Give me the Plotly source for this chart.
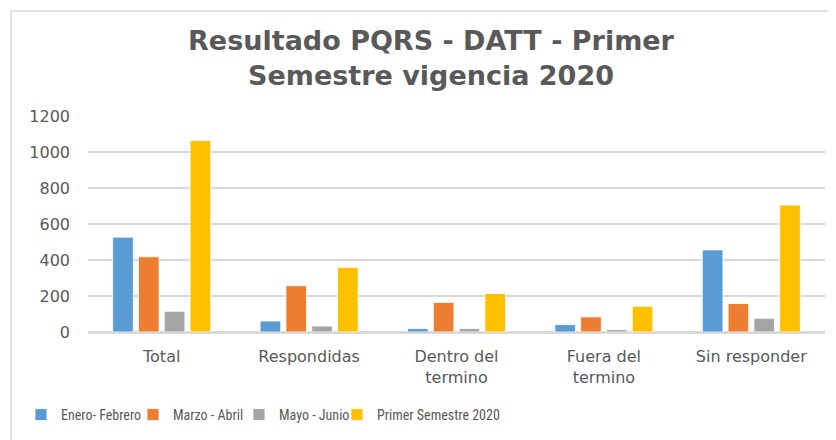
import plotly.graph_objects as go

categories = ["Total", "Respondidas", "Dentro del<br>termino", "Fuera del<br>termino", "Sin responder"]
series_names = ["Enero- Febrero", "Marzo - Abril", "Mayo - Junio", "Primer Semestre 2020"]
enero_febrero = [527, 61, 19, 41, 456]
marzo_abril = [418, 257, 164, 84, 158]
mayo_junio = [115, 33, 19, 13, 76]
primer_semestre = [1064, 359, 214, 143, 705]
y_ticks = [0, 200, 400, 600, 800, 1000, 1200]

colors = ["#5B9BD5", "#ED7D31", "#A5A5A5", "#FFC000"]
values = [enero_febrero, marzo_abril, mayo_junio, primer_semestre]
legend_ids = ["legend", "legend2", "legend3", "legend4"]
legend_text_x = [61, 173, 279, 377]  # page px where each legend label starts

fig = go.Figure()
for name, vals, col, lg in zip(series_names, values, colors, legend_ids):
    fig.add_trace(go.Bar(x=categories, y=vals, name=name, legend=lg,
                         marker=dict(color=col, line=dict(color="white", width=0.8))))

# page body has an 8px margin; work in page pixels and convert
OFF = 8
W, H = 836, 440
plot_left, plot_right, plot_top, plot_bottom = 88, 825, 116, 332
ml = plot_left - OFF
mr = W - (plot_right - OFF)
mt = plot_top - OFF
mb = H - (plot_bottom - OFF)
pw = W - ml - mr
ph = H - mt - mb

def px_x(x):
    return (x - OFF - ml) / pw

def px_y(y):
    return (H - mb - (y - OFF)) / ph

fig.add_shape(type="rect", xref="paper", yref="paper",
              x0=px_x(11), x1=px_x(850), y0=px_y(460), y1=px_y(11),
              line=dict(color="#D9D9D9", width=1.5), fillcolor="rgba(0,0,0,0)", layer="below")

legend_font = dict(family="Liberation Sans Narrow, Roboto Condensed, Arial Narrow, sans-serif",
                   size=14, color="#595959")
legends = {}
for lg, tx in zip(legend_ids, legend_text_x):
    legends[lg] = dict(orientation="h", x=(tx - 40 - OFF) / W, xref="container", xanchor="left",
                       y=1 - (415 - OFF) / H, yref="container", yanchor="middle",
                       font=legend_font, bgcolor="rgba(0,0,0,0)")

fig.update_layout(
    width=W, height=H,
    margin=dict(l=ml, r=mr, t=mt, b=mb),
    paper_bgcolor="white", plot_bgcolor="white",
    barmode="group", bargap=0.3, bargroupgap=0.2,
    title=dict(text="<b>Resultado PQRS - DATT - Primer<br>Semestre vigencia 2020</b>",
               x=(431 - OFF) / W, xanchor="center", y=1 - (50 - OFF) / H, yanchor="middle",
               font=dict(family="DejaVu Sans, sans-serif", size=27, color="#595959")),
    font=dict(family="DejaVu Sans, sans-serif", color="#595959"),
    showlegend=True,
    **legends,
)
fig.update_xaxes(showgrid=False, showline=True, linecolor="#D9D9D9", linewidth=1.5,
                 tickfont=dict(family="DejaVu Sans, sans-serif", size=16, color="#595959"),
                 ticks="", ticklabelstandoff=9)
fig.update_yaxes(range=[0, 1200], tickvals=y_ticks, showgrid=True, gridcolor="#D9D9D9",
                 gridwidth=1.5, zeroline=True, zerolinecolor="#D9D9D9", zerolinewidth=1.5,
                 tickfont=dict(family="DejaVu Sans, sans-serif", size=16, color="#595959"),
                 ticks="", ticklabelstandoff=17)

fig.write_html("out.html")
